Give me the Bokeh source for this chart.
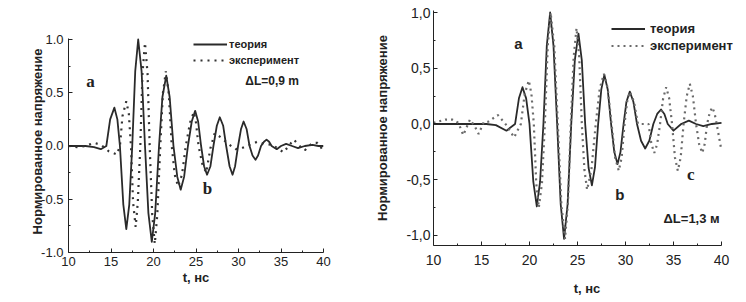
from bokeh.plotting import figure
from bokeh.layouts import row
from bokeh.models import (Range1d, FixedTicker, PrintfTickFormatter, CustomJSTickFormatter,
                          Legend, LegendItem, Label)
from bokeh.embed import file_html
from bokeh.resources import INLINE

# ---------------- data ----------------
# left panel, dL = 0.9 m
t_theory_a = [10, 11, 12, 13, 13.8, 14.45, 14.9, 15.4, 15.75, 16.05, 16.45, 16.8, 17.15, 17.5,
              17.85, 18.2, 18.6, 19.0, 19.4, 19.8, 20.2, 20.65, 21.05, 21.5, 21.9, 22.35, 22.8,
              23.2, 23.6, 24.05, 24.5, 24.9, 25.25, 25.6, 25.95, 26.3, 26.7, 27.05, 27.45, 27.8,
              28.2, 28.55, 28.95, 29.3, 29.6, 29.95, 30.3, 30.6, 30.95, 31.3, 31.65, 32.0, 32.3,
              32.65, 33.0, 33.3, 33.6, 33.9, 34.5, 35.0, 35.6, 36.3, 37.0, 37.8, 38.7, 39.4, 40]
v_theory_a = [0, 0, 0, -0.01, -0.03, 0, 0.25, 0.36, 0.25, 0, -0.55, -0.78, -0.55, 0,
              0.7, 1.0, 0.7, 0, -0.63, -0.9, -0.63, 0, 0.46, 0.66, 0.46, 0, -0.29,
              -0.41, -0.29, 0, 0.23, 0.33, 0.23, 0, -0.19, -0.27, -0.19, 0, 0.19, 0.27,
              0.19, 0, -0.19, -0.27, -0.19, 0, 0.16, 0.23, 0.16, 0, -0.09, -0.13, -0.09,
              0, 0.04, 0.06, 0.04, 0, -0.03, 0, 0.02, 0, -0.02, 0, 0.01, 0, 0]

t_exp_a = [10, 11, 12, 13, 13.85, 14.75, 15.7, 16.05, 16.35, 16.8, 17.1, 17.35, 17.6, 17.9,
           18.15, 18.45, 18.7, 19.0, 19.3, 19.55, 19.85, 20.15, 20.45, 20.8, 21.1, 21.45, 21.8,
           22.15, 22.5, 22.9, 23.35, 23.8, 24.3, 24.75, 25.0, 25.3, 25.75, 26.2, 26.7, 27.2,
           27.95, 28.8, 29.65, 30.4, 31.3, 32.2, 33.1, 34.0, 34.75, 35.3, 35.9, 36.5, 37.2,
           37.8, 38.7, 39.3, 39.85, 40]
v_exp_a = [0, -0.01, 0, 0.03, 0.01, -0.05, -0.08, 0, 0.28, 0.42, 0.3, 0, -0.53, -0.76,
           -0.53, 0, 0.68, 0.97, 0.68, 0, -0.64, -0.92, -0.64, 0, 0.49, 0.7, 0.49,
           0, -0.27, -0.38, -0.27, 0, 0.22, 0.32, 0.22, 0, -0.17, -0.25, -0.02, 0.12,
           0.08, 0.02, -0.03, -0.02, 0.01, 0.04, 0.02, 0.01, -0.03, -0.06, 0, 0.06, 0,
           -0.04, 0.03, 0.03, -0.03, -0.02]

# right panel, dL = 1.3 m
t_theory_b = [10, 12, 14, 15.5, 16.5, 17.6, 18.5, 18.9, 19.27, 19.65, 20.0, 20.4, 20.76, 21.1,
              21.45, 21.8, 22.15, 22.5, 22.88, 23.25, 23.6, 23.97, 24.35, 24.72, 25.1, 25.45,
              25.8, 26.15, 26.5, 26.82, 27.15, 27.48, 27.8, 28.15, 28.5, 28.83, 29.17, 29.48,
              29.8, 30.1, 30.45, 30.82, 31.2, 31.62, 32.05, 32.48, 32.9, 33.3, 33.7, 34.05,
              34.4, 35.0, 35.8, 36.6, 37.35, 38.1, 39.0, 40]
v_theory_b = [0, 0, 0, 0, -0.01, -0.06, 0, 0.23, 0.33, 0.23, 0, -0.52, -0.74, -0.52,
              0, 0.7, 1.0, 0.7, 0, -0.72, -1.03, -0.72, 0, 0.57, 0.81, 0.57,
              0, -0.39, -0.55, -0.39, 0, 0.31, 0.44, 0.31, 0, -0.25, -0.36, -0.25,
              0, 0.2, 0.29, 0.2, 0, -0.15, -0.22, -0.15, 0, 0.09, 0.13, 0.09,
              0, -0.06, 0, 0.03, 0, -0.02, 0, 0.01]

t_exp_b = [10.0, 11.25, 11.95, 12.6, 13.1, 13.8, 14.3, 14.7, 15.25, 15.7, 16.7, 17.5, 18.4,
           19.1, 19.5, 19.93, 20.2, 20.45, 20.7, 20.97, 21.3, 21.6, 21.9, 22.2, 22.58, 22.95,
           23.32, 23.7, 24.0, 24.3, 24.6, 24.9, 25.18, 25.45, 25.72, 26.0, 26.45, 26.9, 27.32,
           27.75, 28.15, 28.55, 28.92, 29.3, 29.6, 29.9, 30.17, 30.45, 30.88, 31.3, 31.85,
           32.4, 32.7, 33.0, 33.3, 33.6, 33.92, 34.24, 34.55, 34.85, 35.15, 35.45, 35.75,
           36.05, 36.38, 36.7, 37.02, 37.35, 37.67, 38.0, 38.25, 38.5, 38.77, 39.03, 39.27,
           39.5, 40.0]
v_exp_b = [0.01, 0.04, 0.04, 0.01, -0.1, 0.04, -0.02, -0.09, 0.02, 0.02, 0.08, 0.0, -0.12,
           0, 0.27, 0.39, 0.27, 0, -0.53, -0.75, -0.53, 0, 0.7, 1.0, 0.7, 0,
           -0.72, -1.03, -0.72, 0, 0.6, 0.86, 0.6, 0, -0.41, -0.59, -0.41, 0, 0.32,
           0.45, 0.32, 0, -0.3, -0.42, -0.3, 0, 0.2, 0.29, 0.2, 0, 0,
           0, -0.18, -0.26, -0.18, 0, 0.23, 0.33, 0.23, 0, -0.3, -0.42, -0.3,
           0, 0.25, 0.36, 0.25, 0, -0.18, -0.26, -0.18, 0, 0.1, 0.15, 0.1,
           0, -0.24]

x_ticks = [10, 15, 20, 25, 30, 35, 40]
x_minor = [12.5, 17.5, 22.5, 27.5, 32.5, 37.5]
y_ticks = [-1.0, -0.5, 0.0, 0.5, 1.0]
y_minor = [-0.75, -0.25, 0.25, 0.75]

legend_labels = ["теория", "эксперимент"]
y_title = "Нормированное напряжение"
x_title = "t, нс"

SANS = "Liberation Sans"
SERIF = "Liberation Serif"


def make_fig(width, height, borders, xr, yr, xb, yb, tick_size, x_std, y_std,
             lbl_std_x, lbl_std_y, fmt):
    p = figure(width=width, height=height, output_backend="svg", toolbar_location=None,
               x_range=Range1d(*xr), y_range=Range1d(*yr),
               min_border_left=borders[0], min_border_right=borders[1],
               min_border_top=borders[2], min_border_bottom=borders[3])
    p.frame_align = False
    p.outline_line_color = None
    p.grid.visible = False
    p.xaxis.ticker = FixedTicker(ticks=x_ticks, minor_ticks=x_minor)
    p.yaxis.ticker = FixedTicker(ticks=y_ticks, minor_ticks=y_minor)
    p.xaxis.bounds = xb
    p.yaxis.bounds = yb
    p.yaxis.formatter = fmt
    p.xaxis.formatter = PrintfTickFormatter(format="%d")
    for ax in (p.xaxis, p.yaxis):
        ax.axis_line_color = "#222222"
        ax.major_tick_line_color = "#222222"
        ax.minor_tick_line_color = "#222222"
        ax.major_tick_in = 4
        ax.major_tick_out = 0
        ax.minor_tick_in = 2
        ax.minor_tick_out = 0
        ax.major_label_text_font = SANS
        ax.major_label_text_font_size = tick_size
        ax.major_label_text_color = "#222222"
        ax.axis_label_text_font = SANS
        ax.axis_label_text_font_style = "bold"
        ax.axis_label_text_font_size = "13px"
        ax.axis_label_text_color = "#222222"
    p.xaxis.major_label_standoff = x_std
    p.yaxis.major_label_standoff = y_std
    p.xaxis.axis_label_standoff = lbl_std_x
    p.yaxis.axis_label_standoff = lbl_std_y
    p.xaxis.axis_label = x_title
    p.yaxis.axis_label = y_title
    return p


def add_legend(p, r1, r2, loc, size, standoff, row_h):
    leg = Legend(items=[LegendItem(label=legend_labels[0], renderers=[r1]),
                        LegendItem(label=legend_labels[1], renderers=[r2])],
                 location=loc, orientation="vertical")
    leg.background_fill_alpha = 0
    leg.border_line_color = None
    leg.label_text_font = SANS
    leg.label_text_font_style = "bold"
    leg.label_text_font_size = size
    leg.label_text_color = "#222222"
    leg.glyph_width = 34
    leg.glyph_height = row_h
    leg.label_height = row_h
    leg.label_standoff = standoff
    leg.spacing = 0
    leg.padding = 0
    leg.margin = 0
    p.add_layout(leg, "center")


def add_text(p, x, y, text, font, size, align="center"):
    p.add_layout(Label(x=x, y=y, text=text, text_font=font, text_font_size=size,
                       text_font_style="bold", text_color="#222222",
                       text_align=align, text_baseline="middle"))


# ---------------- left panel ----------------
p1 = make_fig(370, 302, (68, 47, 30, 50), (10, 40), (-1.0, 1.0845), (10, 40), (-1.0, 1.01),
              "13px", 4, 5, 1, -7, PrintfTickFormatter(format="%.1f"))
r1 = p1.line(t_theory_a, v_theory_a, line_color="#2a2a2a", line_width=1.8, line_join="round")
r2 = p1.line(t_exp_a, v_exp_a, line_color="#333333", line_width=2.2, line_dash="2 5",
             line_cap="butt")
add_legend(p1, r1, r2, (125, 184), "11px", 2, 16)
add_text(p1, 12.6, 0.61, "a", SERIF, "17px")
add_text(p1, 26.35, -0.40, "b", SERIF, "17px")
add_text(p1, 30.8, 0.61, "ΔL=0,9 m", SANS, "12px", "left")

# ---------------- right panel ----------------
p2 = make_fig(376, 302, (63, 6, 10, 57), (10, 41.98), (-1.09, 1.018), (10, 40), (-1.09, 1.018),
              "14px", 9, 3, 13, 13,
              CustomJSTickFormatter(code="return tick.toFixed(1).replace('.', ',');"))
r3 = p2.line(t_theory_b, v_theory_b, line_color="#2a2a2a", line_width=1.8, line_join="round")
r4 = p2.line(t_exp_b, v_exp_b, line_color="#6a6a6a", line_width=2.2, line_dash="2 4",
             line_cap="butt")
add_legend(p2, r3, r4, (178, 191), "13px", 5, 17)
add_text(p2, 18.85, 0.72, "a", SANS, "15px")
add_text(p2, 29.4, -0.63, "b", SANS, "15px")
add_text(p2, 36.8, -0.45, "c", SERIF, "17px")
add_text(p2, 33.96, -0.85, "ΔL=1,3 м", SANS, "13px", "left")

layout = row(p1, p2)
open("out.html", "w").write(file_html(layout, INLINE))
